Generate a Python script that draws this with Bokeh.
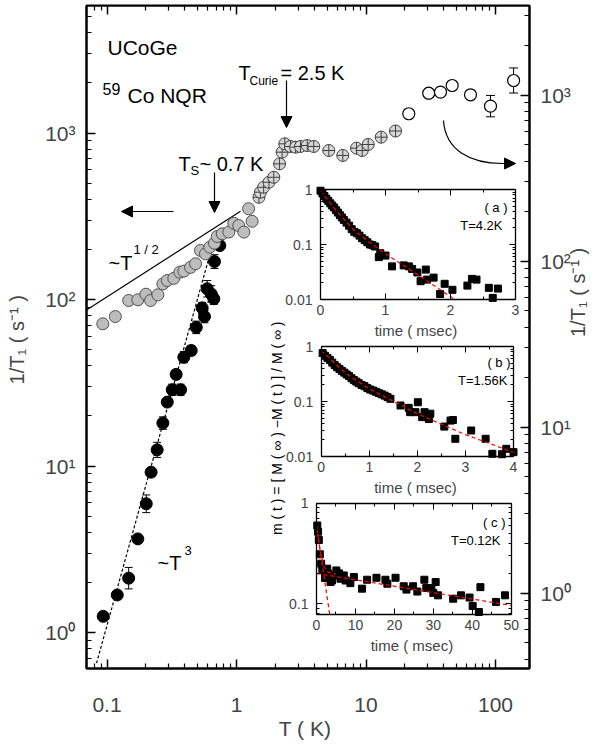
import math
from bokeh.plotting import figure
from bokeh.models import (Range1d, LinearScale, LogAxis, LinearAxis, FixedTicker, Axis,
                          Whisker, TeeHead, ColumnDataSource, Label, Arrow, NormalHead,
                          CustomJSTickFormatter)
from bokeh.embed import file_html
from bokeh.resources import INLINE

FONT = "Liberation Sans"

# ---------------- main panel data: 1/T1 (s^-1) vs T (K) ----------------
grey_T = [0.0928, 0.116, 0.147, 0.173, 0.1995, 0.217, 0.247, 0.27, 0.292, 0.328,
          0.365, 0.392, 0.442, 0.483, 0.527, 0.576, 0.622, 0.676, 0.71, 0.776,
          0.873, 0.953, 1.04, 1.14, 1.24, 1.32]
grey_V = [71.5, 79, 98.6, 99.6, 107.6, 98.6, 106.7, 124, 130, 134,
          146, 148, 156, 164, 197, 188, 206, 218, 239, 248,
          254, 287, 278, 254, 351, 295]

cross_T = [1.49, 1.53, 1.62, 1.78, 1.94, 2.15, 2.25, 2.36, 2.61, 2.86,
           3.12, 3.52, 3.95, 5.16, 6.62, 8.45, 9.35, 10.4, 13.1, 16.9]
cross_V = [411, 441, 472, 506, 542, 653, 767, 861, 830, 822,
           830, 841, 830, 785, 733, 811, 785, 853, 944, 1028]

black_T = [0.0935, 0.12, 0.147, 0.173, 0.201, 0.219, 0.244, 0.27, 0.292, 0.319,
           0.342, 0.37, 0.392, 0.447, 0.489, 0.543, 0.566, 0.594, 0.638, 0.668,
           0.676, 0.743]
black_V = [1.25, 1.68, 2.12, 3.65, 5.93, 9.18, 12.5, 18.1, 24.2, 28.7,
           35.5, 28.7, 45, 49.4, 68, 89, 79, 116, 108, 101,
           169, 211]
black_err = [0.06, 0.0, 0.16, 0.0, 0.13, 0.05, 0.11, 0.09, 0.06, 0.08,
             0.06, 0.08, 0.08, 0.07, 0.09, 0.08, 0.09, 0.12, 0.12, 0.08,
             0.1, 0.05]

# open circles belong to the right-hand axis
open_T = [21.4, 30.5, 37.6, 46.3, 64.1, 91.5, 138]
open_V = [771, 1025, 1040, 1141, 1003, 857, 1223]
open_err = [0.03, 0.05, 0.05, 0.04, 0.05, 0.16, 0.19]

sqrt_T = [0.0695, 1.074]
sqrt_V = [86.5, 339]
cube_T = [0.083, 0.65]
cube_V = [0.654, 210]

x_major = [0.1, 1, 10, 100]
x_labels = ["0.1", "1", "10", "100"]
y_major = [1, 10, 100, 1000]
y_labels = ["10\u2070", "10\u00b9", "10\u00b2", "10\u00b3"]

# ---------------- inset data: m(t) vs time (msec) ----------------
a_t = [0.0, 0.03, 0.06, 0.09, 0.12, 0.15, 0.18, 0.21, 0.24, 0.27,
       0.30, 0.33, 0.36, 0.40, 0.44, 0.48, 0.52, 0.56, 0.60, 0.64,
       0.68, 0.72, 0.76, 0.80, 0.84, 0.897, 0.92, 1.0, 1.1, 1.28,
       1.36, 1.41, 1.49, 1.54, 1.62, 1.64, 1.74, 1.84, 1.91, 2.03,
       2.26, 2.33, 2.4, 2.59, 2.65, 2.73]
a_m = [0.95, 0.85, 0.76, 0.68, 0.62, 0.56, 0.51, 0.47, 0.42, 0.38,
       0.34, 0.31, 0.28, 0.25, 0.22, 0.19, 0.17, 0.16, 0.145, 0.13,
       0.12, 0.11, 0.10, 0.097, 0.092, 0.059, 0.0695, 0.063, 0.04, 0.0417,
       0.04, 0.036, 0.031, 0.0215, 0.035, 0.023, 0.025, 0.0126, 0.0193, 0.015,
       0.0179, 0.0237, 0.023, 0.0163, 0.0107, 0.0158]
fit_a_t = [0, 0.25, 0.5, 0.75, 1.0, 1.5, 2.05]
fit_a_m = [0.95, 0.4, 0.19, 0.11, 0.068, 0.028, 0.0103]

b_t = [0.03, 0.08, 0.13, 0.18, 0.23, 0.28, 0.33, 0.38, 0.43, 0.48,
       0.53, 0.58, 0.63, 0.68, 0.73, 0.78, 0.84, 0.90, 0.96, 1.02,
       1.08, 1.14, 1.20, 1.26, 1.32, 1.38, 1.44, 1.65, 1.82, 1.85,
       1.96, 2.01, 2.1, 2.15, 2.24, 2.27, 2.56, 2.69, 2.74, 2.79,
       3.12, 3.42, 3.56, 3.76, 3.85, 4.0]
b_m = [0.76, 0.68, 0.62, 0.57, 0.51, 0.46, 0.42, 0.39, 0.36, 0.335,
       0.31, 0.29, 0.265, 0.245, 0.23, 0.215, 0.2, 0.19, 0.175, 0.165,
       0.158, 0.15, 0.142, 0.135, 0.128, 0.12, 0.112, 0.0846, 0.0767, 0.064,
       0.064, 0.097, 0.052, 0.064, 0.048, 0.06, 0.035, 0.045, 0.046, 0.021,
       0.0297, 0.021, 0.0112, 0.011, 0.0138, 0.012]
fit_b_t = [0, 0.5, 1, 2, 3, 4.05]
fit_b_m = [0.85, 0.33, 0.17, 0.06, 0.025, 0.0115]

c_t = [0.2, 0.4, 0.6, 0.86, 1.2, 1.5, 1.88, 2.2, 2.74, 3.0,
       3.6, 4.0, 4.45, 5.1, 5.8, 6.16, 7.0, 7.5, 8.7, 9.6,
       11.7, 13.0, 15.4, 17.7, 18.2, 20.3, 22.4, 23.1, 24.8, 25.9,
       27.7, 28.2, 29.5, 30.0, 30.6, 31.2, 35.1, 37.1, 39.3, 40.1,
       41.7, 42.1, 46.1, 48.4]
c_m = [0.6, 0.52, 0.43, 0.31, 0.25, 0.22, 0.214, 0.18, 0.223, 0.2,
       0.164, 0.17, 0.191, 0.214, 0.2, 0.177, 0.191, 0.17, 0.16, 0.184,
       0.141, 0.173, 0.181, 0.173, 0.158, 0.181, 0.149, 0.138, 0.149, 0.132,
       0.173, 0.143, 0.143, 0.128, 0.164, 0.121, 0.112, 0.121, 0.115, 0.095,
       0.0826, 0.146, 0.104, 0.121]
fit_c_fast_t = [0, 3.4]
fit_c_fast_m = [0.58, 0.078]
fit_c_slow_t = [0, 50]
fit_c_slow_m = [0.2, 0.096]
fit_c_sum_t = [0, 0.5, 1, 1.5, 2, 3, 5]
fit_c_sum_m = [0.62, 0.44, 0.33, 0.27, 0.23, 0.205, 0.197]

# ---------------- layout (canvas pixels) ----------------
W, H = 605, 755
FL, FR, FT, FB = 86.0, 529.0, 5.0, 668.0
PX_T1, DEC_T = 236.0, 129.5
PY_V1, DEC_V = 632.0, 166.5
PY_R1, DEC_R = 592.5, 166.0


def xval(px):
    return 10 ** ((px - PX_T1) / DEC_T)


def yval(py):
    return 10 ** ((PY_V1 - py) / DEC_V)


def rval(py):
    return 10 ** ((PY_R1 - py) / DEC_R)


def inset_x(t0, t1, p0, p1):
    ppu = (p1 - p0) / (t1 - t0)
    return Range1d(t0 - (p0 - FL) / ppu, t1 + (FR - p1) / ppu)


def inset_y(m_lo, m_hi, p_lo, p_hi):
    a, b = math.log10(m_lo), math.log10(m_hi)
    ppd = (p_lo - p_hi) / (b - a)
    return Range1d(10 ** (a - (FB - p_lo) / ppd), 10 ** (b + (p_hi - FT) / ppd))


p = figure(width=W, height=H, x_axis_type="log", y_axis_type="log",
           x_range=Range1d(xval(FL), xval(FR)), y_range=Range1d(yval(FB), yval(FT)),
           output_backend="svg", toolbar_location=None,
           min_border_left=int(FL), min_border_right=int(W - FR),
           min_border_top=int(FT), min_border_bottom=int(H - FB))
p.extra_x_ranges = {"ta": inset_x(0, 3, 320, 515),
                    "tb": inset_x(0, 4, 320.7, 513),
                    "tc": inset_x(0, 50, 316, 510.7)}
p.extra_x_scales = {"ta": LinearScale(), "tb": LinearScale(), "tc": LinearScale()}
p.extra_y_ranges = {"r": Range1d(rval(FB), rval(FT)),
                    "ya": inset_y(0.01, 1, 299, 189),
                    "yb": inset_y(0.01, 1, 456, 346),
                    "yc": inset_y(0.078, 1, 614, 502.7)}
p.xgrid.visible = False
p.ygrid.visible = False
p.outline_line_color = "black"
p.outline_line_width = 2
p.background_fill_color = "white"
p.border_fill_color = "white"

blank = CustomJSTickFormatter(code="return ''")


def log_minor(lo, hi):
    out = []
    for e in range(-3, 5):
        for k in range(2, 10):
            v = k * 10 ** e
            if lo <= v <= hi:
                out.append(v)
    return out


def style_main(ax):
    ax.axis_line_width = 2
    ax.major_tick_in = 9
    ax.major_tick_out = 0
    ax.minor_tick_in = 5
    ax.minor_tick_out = 0
    ax.major_tick_line_width = 1.5
    ax.minor_tick_line_width = 1.2
    ax.major_label_text_font = FONT
    ax.major_label_text_font_size = "21px"
    ax.axis_label_text_font = FONT
    ax.axis_label_text_font_style = "normal"
    ax.axis_label_text_font_size = "20px"


xr, yr, rr = p.x_range, p.y_range, p.extra_y_ranges["r"]
xtick = FixedTicker(ticks=x_major, minor_ticks=log_minor(xr.start, xr.end))
ytick = FixedTicker(ticks=y_major, minor_ticks=log_minor(yr.start, yr.end))
rtick = FixedTicker(ticks=y_major, minor_ticks=log_minor(rr.start, rr.end))

xa = p.xaxis[0]
xa.ticker = xtick
xa.major_label_overrides = dict(zip(x_major, x_labels))
style_main(xa)
xa.major_label_standoff = 29
xa.axis_label = "T  ( K)"
xa.axis_label_text_font_size = "21px"
xa.axis_label_standoff = 2

ya = p.yaxis[0]
ya.ticker = ytick
ya.major_label_overrides = dict(zip(y_major, y_labels))
style_main(ya)
ya.major_label_standoff = 11
ya.axis_label = "1/T\u2081  ( s\u207b\u00b9 )"
ya.axis_label_standoff = 14

ra = LogAxis(y_range_name="r", ticker=rtick, major_label_overrides=dict(zip(y_major, y_labels)))
style_main(ra)
ra.major_label_standoff = 11
ra.axis_label = "1/T\u2081  ( s\u207b\u00b9 )"
ra.axis_label_standoff = 4
if "axis_label_orientation" in Axis.properties():
    ra.axis_label_orientation = math.pi / 2
p.add_layout(ra, "right")

ta = LogAxis(fixed_location=yr.end, ticker=xtick, formatter=blank)
style_main(ta)
p.add_layout(ta, "above")

# ---------------- main glyphs ----------------
bsrc = ColumnDataSource(dict(
    T=[t for t, e in zip(black_T, black_err) if e > 0],
    lo=[v / (1 + e) for v, e in zip(black_V, black_err) if e > 0],
    up=[v * (1 + e) for v, e in zip(black_V, black_err) if e > 0]))
p.add_layout(Whisker(source=bsrc, base="T", lower="lo", upper="up", dimension="height",
                     line_color="black", line_width=1,
                     lower_head=TeeHead(size=8, line_color="black", line_width=1),
                     upper_head=TeeHead(size=8, line_color="black", line_width=1)))
osrc = ColumnDataSource(dict(
    T=open_T,
    lo=[v / (1 + e) for v, e in zip(open_V, open_err)],
    up=[v * (1 + e) for v, e in zip(open_V, open_err)]))
p.add_layout(Whisker(source=osrc, base="T", lower="lo", upper="up", dimension="height",
                     y_range_name="r", line_color="black", line_width=1,
                     lower_head=TeeHead(size=9, line_color="black", line_width=1),
                     upper_head=TeeHead(size=9, line_color="black", line_width=1)))

p.line(sqrt_T, sqrt_V, line_color="black", line_width=1.2)
p.line(cube_T, cube_V, line_color="black", line_width=1.2, line_dash="3 2")

p.scatter(black_T, black_V, marker="circle", size=12, fill_color="black", line_color="black")
p.scatter(grey_T, grey_V, marker="circle", size=12, fill_color="#bdbdbd",
          line_color="#505050", line_width=1)
p.scatter(cross_T, cross_V, marker="circle_cross", size=12, fill_color="#d6d6d6",
          line_color="#404040", line_width=1)
p.scatter(open_T, open_V, marker="circle", size=12, fill_color="white",
          line_color="black", line_width=1.2, y_range_name="r")


# ---------------- annotations ----------------
def add_text(px, py, text, size, align="left", baseline="alphabetic", angle=0.0):
    p.add_layout(Label(x=xval(px), y=yval(py), text=text, text_font=FONT,
                       text_font_size=f"{size}px", text_align=align,
                       text_baseline=baseline, angle=angle, text_color="black"))


def add_arrow(px0, py0, px1, py1):
    p.add_layout(Arrow(end=NormalHead(size=11, fill_color="black", line_color="black", line_width=1),
                       x_start=xval(px0), y_start=yval(py0), x_end=xval(px1), y_end=yval(py1),
                       line_color="black", line_width=1.2))


add_text(107, 47, "UCoGe", 21)
add_text(102, 88, "59", 16)
add_text(127, 95, "Co NQR", 21)
add_text(238, 72, "T", 20)
add_text(249, 80, "Curie", 12)
add_text(280, 72, "= 2.5 K", 20)
add_text(178, 163, "T", 20)
add_text(190, 170, "S", 13)
add_text(199, 163, "~ 0.7 K", 20)
add_text(108, 262, "~T", 20)
add_text(133, 249, "1 / 2", 13)
add_text(157, 562, "~T", 20)
add_text(184, 550, "3", 13)

add_arrow(173, 211, 121, 211)
add_arrow(214, 172, 214, 212)
add_arrow(286, 80, 286, 127)
p.bezier(x0=[xval(443)], y0=[yval(120)], x1=[xval(502)], y1=[yval(163)],
         cx0=[xval(445)], cy0=[yval(150)], cx1=[xval(470)], cy1=[yval(163)],
         line_color="black", line_width=1.2)
add_arrow(500, 163, 515, 163)

add_text(276, 420, "m ( t )  =  [ M ( \u221e )  \u2212M ( t ) ]  / M ( \u221e )", 14,
         align="center", baseline="middle", angle=math.pi / 2)

add_text(507, 207, "( a )", 13, align="right")
add_text(502, 225, "T=4.2K", 13, align="right")
add_text(510, 362, "( b )", 13, align="right")
add_text(507, 380, "T=1.56K", 13, align="right")
add_text(505, 522, "( c )", 13, align="right")
add_text(500, 540, "T=0.12K", 13, align="right")


# ---------------- insets ----------------
def style_inset(ax):
    ax.axis_line_width = 1.3
    ax.major_tick_in = 6
    ax.major_tick_out = 0
    ax.minor_tick_in = 3
    ax.minor_tick_out = 0
    ax.major_tick_line_width = 1
    ax.minor_tick_line_width = 1
    ax.major_label_text_font = FONT
    ax.major_label_text_font_size = "14px"


def inset_axes(xn, yn, t0, t1, m0, m1, xt, xmin, yt, ymin):
    kw = dict(x_range_name=xn, y_range_name=yn)
    xtk = FixedTicker(ticks=xt, minor_ticks=xmin)
    ytk = FixedTicker(ticks=yt, minor_ticks=ymin)
    bot = LinearAxis(fixed_location=m0, bounds=(t0, t1), ticker=xtk,
                     axis_label="time  ( msec)", **kw)
    top = LinearAxis(fixed_location=m1, bounds=(t0, t1), ticker=xtk, formatter=blank, **kw)
    lef = LogAxis(fixed_location=t0, bounds=(m0, m1), ticker=ytk,
                  major_label_overrides={v: ("%g" % v) for v in yt}, **kw)
    rig = LogAxis(fixed_location=t1, bounds=(m0, m1), ticker=ytk, formatter=blank, **kw)
    for ax in (bot, top, lef, rig):
        style_inset(ax)
    bot.major_label_standoff = 5
    bot.axis_label_standoff = 4
    bot.axis_label_text_font = FONT
    bot.axis_label_text_font_size = "15px"
    bot.axis_label_text_font_style = "normal"
    lef.major_label_standoff = 8
    p.add_layout(bot, "below")
    p.add_layout(top, "above")
    p.add_layout(lef, "left")
    p.add_layout(rig, "right")


inset_axes("ta", "ya", 0, 3, 0.01, 1, [0, 1, 2, 3], [0.5, 1.5, 2.5],
           [0.01, 0.1, 1], log_minor(0.01, 1))
inset_axes("tb", "yb", 0, 4, 0.01, 1, [0, 1, 2, 3, 4], [0.5, 1.5, 2.5, 3.5],
           [0.01, 0.1, 1], log_minor(0.01, 1))
inset_axes("tc", "yc", 0, 50, 0.078, 1, [0, 10, 20, 30, 40, 50], [5, 15, 25, 35, 45],
           [0.1, 1], log_minor(0.078, 1))

red = dict(line_color="red", line_width=1.2, line_dash="4 3")
p.scatter(a_t, a_m, marker="square", size=7, color="black", x_range_name="ta", y_range_name="ya")
p.line(fit_a_t, fit_a_m, x_range_name="ta", y_range_name="ya", **red)
p.scatter(b_t, b_m, marker="square", size=7, color="black", x_range_name="tb", y_range_name="yb")
p.line(fit_b_t, fit_b_m, x_range_name="tb", y_range_name="yb", **red)
p.scatter(c_t, c_m, marker="square", size=7, color="black", x_range_name="tc", y_range_name="yc")
p.line(fit_c_fast_t, fit_c_fast_m, x_range_name="tc", y_range_name="yc", **red)
p.line(fit_c_slow_t, fit_c_slow_m, x_range_name="tc", y_range_name="yc", **red)
p.line(fit_c_sum_t, fit_c_sum_m, x_range_name="tc", y_range_name="yc", **red)

open("out.html", "w").write(file_html(p, INLINE))
